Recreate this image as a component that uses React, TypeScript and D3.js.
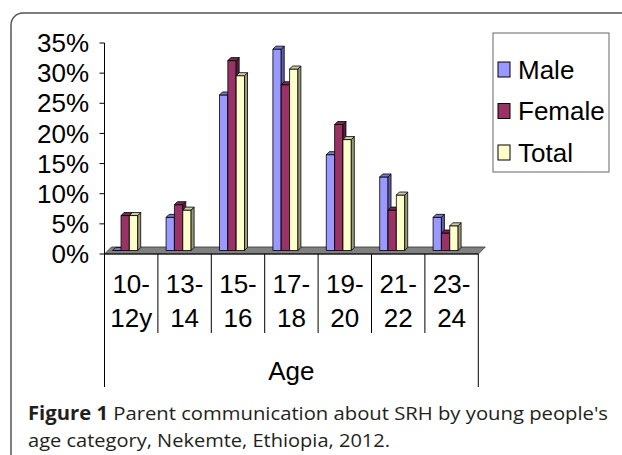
import * as d3 from "d3";
import React from "react";

const categories = ["10-12y", "13-14", "15-16", "17-18", "19-20", "21-22", "23-24"];
const catLine1 = ["10-", "13-", "15-", "17-", "19-", "21-", "23-"];
const catLine2 = ["12y", "14", "16", "18", "20", "22", "24"];
const seriesNames = ["Male", "Female", "Total"];
const male = [0, 5.5, 25.8, 33.4, 15.9, 12.2, 5.5];
const female = [5.8, 7.6, 31.5, 27.5, 20.9, 6.7, 2.9];
const total = [5.8, 6.7, 29.0, 30.1, 18.4, 9.2, 4.1];
const yTicks = [0, 5, 10, 15, 20, 25, 30, 35];

const front = ["#9999ff", "#993366", "#ffffcc"];
const side = ["#5f5fa6", "#5a1e3c", "#9a9a78"];
const topc = ["#7676cc", "#7a2850", "#cfcfa6"];

const W = 622;
const H = 455;
const left = 104.5;
const right = 478.3;
const floorY = 254;
const depth = 7;
const barBase = 250.5;
const dx = 3;
const dy = 3;

const App = () => {
  const values = [male, female, total];
  const x = d3.scaleBand(categories, [left, right]);
  const xs = d3.scaleBand(seriesNames, [0, 25]);
  const yAxis = d3.scaleLinear([0, 35], [floorY, 43]);
  const yBar = d3.scaleLinear([0, 35], [barBase, barBase - (floorY - 43)]);
  const font = "'Liberation Sans', Arial, sans-serif";

  return (
    <svg
      width={W}
      height={H}
      style={{ position: "absolute", left: 0, top: 0, background: "#fff" }}
      fontFamily={font}
    >
      {/* frame */}
      <rect x={11} y={13} width={700} height={600} rx={12} fill="none" stroke="#555" strokeWidth={1.5} />

      {/* floor */}
      <path
        d={`M${left},${floorY}L${left + depth},${floorY - depth}L${right + depth},${floorY - depth}L${right},${floorY}Z`}
        fill="#808080"
        stroke="#333"
        strokeWidth={0.8}
      />

      {/* bars */}
      {categories.map((c, ci) => {
        const g0 = (x(c) ?? 0) + x.bandwidth() / 2 - 6 - 12.5;
        return (
          <g key={c}>
            {seriesNames.map((s, si) => {
              const v = values[si][ci];
              const x0 = g0 + (xs(s) ?? 0);
              const x1 = x0 + xs.bandwidth();
              const yt = yBar(v);
              return (
                <g key={s} stroke="#000" strokeWidth={0.8} strokeLinejoin="round">
                  <path d={`M${x0},${barBase}L${x1},${barBase}L${x1},${yt}L${x0},${yt}Z`} fill={front[si]} />
                  <path d={`M${x1},${barBase}L${x1 + dx},${barBase - dy}L${x1 + dx},${yt - dy}L${x1},${yt}Z`} fill={side[si]} />
                  <path d={`M${x0},${yt}L${x1},${yt}L${x1 + dx},${yt - dy}L${x0 + dx},${yt - dy}Z`} fill={topc[si]} />
                </g>
              );
            })}
          </g>
        );
      })}

      {/* value axis */}
      <line x1={left} x2={left} y1={yAxis(35)} y2={floorY} stroke="#000" />
      {yTicks.map((t) => (
        <g key={t}>
          <line x1={left - 5} x2={left} y1={yAxis(t)} y2={yAxis(t)} stroke="#000" />
          <text x={89} y={yAxis(t)} dy="0.35em" textAnchor="end" fontSize={26}>
            {t}%
          </text>
        </g>
      ))}

      {/* category axis table */}
      <line x1={left} x2={right} y1={floorY} y2={floorY} stroke="#000" />
      {categories.map((c, ci) => {
        const xl = x(c) ?? 0;
        const xc = xl + x.bandwidth() / 2;
        return (
          <g key={c}>
            <line x1={xl} x2={xl} y1={floorY} y2={ci === 0 ? 387 : 333} stroke="#000" />
            <text x={xc} y={293} textAnchor="middle" fontSize={26}>{catLine1[ci]}</text>
            <text x={xc} y={327} textAnchor="middle" fontSize={26}>{catLine2[ci]}</text>
          </g>
        );
      })}
      <line x1={right} x2={right} y1={floorY} y2={387} stroke="#000" />
      <text x={(left + right) / 2} y={380} textAnchor="middle" fontSize={26}>Age</text>

      {/* legend */}
      <rect x={493} y={33} width={116} height={139} fill="#fff" stroke="#666" />
      {seriesNames.map((s, si) => (
        <g key={s} transform={`translate(498,${62 + si * 41.5})`}>
          <rect x={0} y={0} width={12} height={15} fill={front[si]} stroke="#000" />
          <text x={20} y={16.5} fontSize={26}>{s}</text>
        </g>
      ))}

      {/* caption */}
      <g fontFamily="'Open Sans', 'Noto Sans', sans-serif" fontSize={19} fill="#231f20">
        <text x={28} y={420} textLength={580} lengthAdjust="spacingAndGlyphs">
          <tspan fontWeight="bold">Figure 1</tspan> Parent communication about SRH by young people's
        </text>
        <text x={28} y={447} textLength={362} lengthAdjust="spacingAndGlyphs">
          age category, Nekemte, Ethiopia, 2012.
        </text>
      </g>
    </svg>
  );
};

export default App;
